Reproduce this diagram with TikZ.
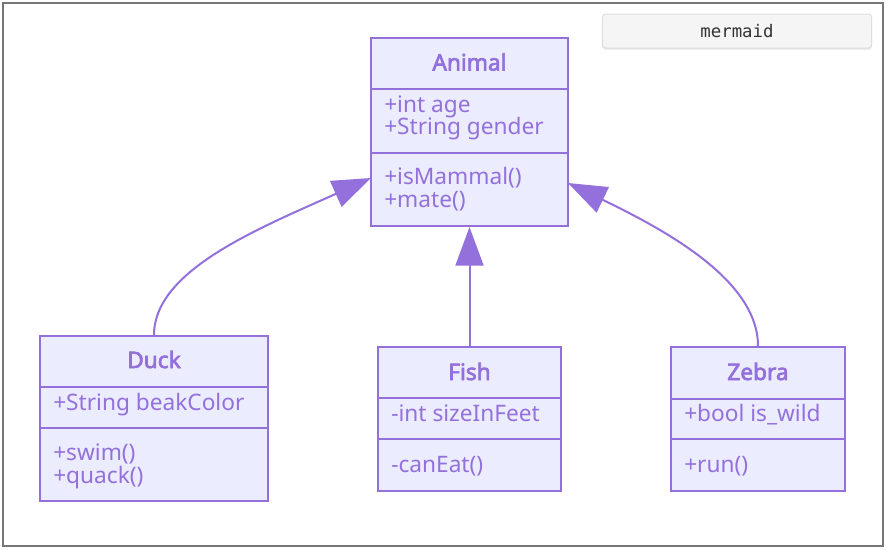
\documentclass[tikz,border=0pt]{standalone}
\usepackage{fontspec}
\setmainfont{Noto Sans}[AutoFakeBold=3]
\setmonofont{DejaVu Sans Mono}
\usetikzlibrary{arrows.meta}
\definecolor{mpurple}{HTML}{9370DB}
\definecolor{mfill}{HTML}{ECECFF}
\definecolor{frameg}{HTML}{767676}
\begin{document}
\begin{tikzpicture}[x=0.75pt,y=-0.75pt,
  classbox/.style={draw=mpurple, fill=mfill, line width=1.5pt, inner sep=0pt},
  divider/.style={draw=mpurple, line width=1.5pt},
  ctitle/.style={font=\bfseries\fontsize{17}{20}\selectfont, text=mpurple, inner sep=0pt, anchor=base},
  member/.style={font=\fontsize{17}{20}\selectfont, text=mpurple, inner sep=0pt, anchor=base west},
  inherit/.style={draw=mpurple, line width=1.5pt, -{Triangle[length=29pt,width=21pt]}},
  badge/.style={draw=black!13, fill=black!4, rounded corners=2.5pt, line width=0.75pt, minimum width=202pt, minimum height=25.5pt, inner sep=0pt, font=\ttfamily\fontsize{13}{15}\selectfont, text=black!80}
]
\useasboundingbox (0,0) rectangle (886,550);
\draw[frameg, line width=1.5pt] (3,3) rectangle (883,546);

% mermaid badge
\fill[black!10, rounded corners=2.5pt] (602,16) rectangle (872,49.5);
\node[badge] (badge) at (737,31) {mermaid};

% class boxes
\node[classbox, minimum width=147.75pt, minimum height=141pt] (animal) at (469.5,132) {};
\node[classbox, minimum width=171pt, minimum height=123.75pt] (duck) at (154,418.5) {};
\node[classbox, minimum width=137.25pt, minimum height=108pt] (fish) at (469.5,419) {};
\node[classbox, minimum width=130.5pt, minimum height=108pt] (zebra) at (758,419) {};

% dividers
\draw[divider] (371,89) -- (568,89);
\draw[divider] (371,153) -- (568,153);
\draw[divider] (40,387) -- (268,387);
\draw[divider] (40,428) -- (268,428);
\draw[divider] (378,398) -- (561,398);
\draw[divider] (378,439) -- (561,439);
\draw[divider] (671,399) -- (845,399);
\draw[divider] (671,439) -- (845,439);

% texts
\node[ctitle] (animalT) at (469.5,70.5) {Animal};
\node[member] (animalA1) at (384,112) {+int age};
\node[member] (animalA2) at (384,134.5) {+String gender};
\node[member] (animalM1) at (384,184.5) {+isMammal()};
\node[member] (animalM2) at (384,207) {+mate()};

\node[ctitle] (duckT) at (154,368) {Duck};
\node[member] (duckA1) at (53,410) {+String beakColor};
\node[member] (duckM1) at (53,460.5) {+swim()};
\node[member] (duckM2) at (53,483) {+quack()};

\node[ctitle] (fishT) at (469.5,380) {Fish};
\node[member] (fishA1) at (391,421) {-int sizeInFeet};
\node[member] (fishM1) at (391,472) {-canEat()};

\node[ctitle] (zebraT) at (758,380) {Zebra};
\node[member] (zebraA1) at (684,421) {+bool is\_wild};
\node[member] (zebraM1) at (684,472) {+run()};

% inheritance connectors
\coordinate (duckin) at (371,178);
\coordinate (zebrain) at (568,183);
\draw[inherit] (duck.north) .. controls (154,270) and (260,228) .. (duckin);
\draw[inherit] (fish.north) -- (animal.south);
\draw[inherit] (zebra.north) .. controls (758,280) and (665,230) .. (zebrain);
\end{tikzpicture}
\end{document}
